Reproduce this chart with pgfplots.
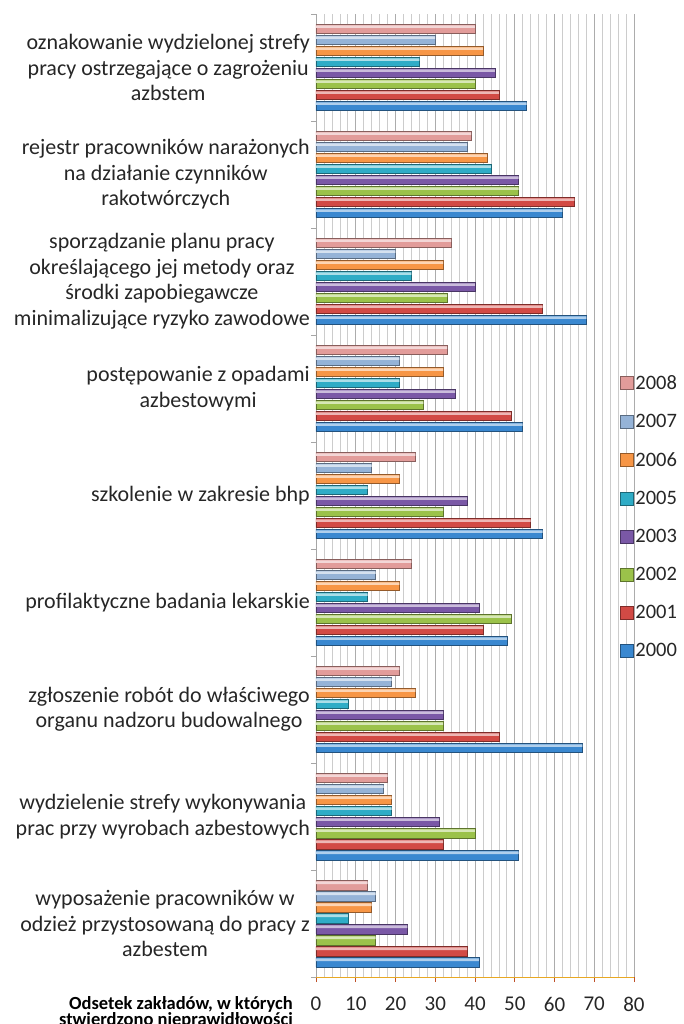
\documentclass[border=0pt]{standalone}
\usepackage{pgfplots}
\pgfplotsset{compat=1.18}
\usepackage{pgfplotstable}
\usepackage{fontspec}
\setmainfont{Carlito}

\definecolor{c2000}{RGB}{58,136,208}
\definecolor{c2001}{RGB}{210,74,69}
\definecolor{c2002}{RGB}{155,194,74}
\definecolor{c2003}{RGB}{122,88,166}
\definecolor{c2005}{RGB}{47,172,198}
\definecolor{c2006}{RGB}{247,150,70}
\definecolor{c2007}{RGB}{149,179,215}
\definecolor{c2008}{RGB}{226,156,154}
\definecolor{txt}{RGB}{38,38,38}
\definecolor{axorange}{RGB}{232,168,36}
\definecolor{tickred}{RGB}{190,80,40}

\pgfplotstableread{
cat y2000 y2001 y2002 y2003 y2005 y2006 y2007 y2008
0 41 38 15 23 8 14 15 13
1 51 32 40 31 19 19 17 18
2 67 46 32 32 8 25 19 21
3 48 42 49 41 13 21 15 24
4 57 54 32 38 13 21 14 25
5 52 49 27 35 21 32 21 33
6 68 57 33 40 24 32 20 34
7 62 65 51 51 44 43 38 39
8 53 46 40 45 26 42 30 40
}\data

\pgfplotsset{sqleg/.style={legend image code/.code={\draw[##1] (0pt,-6.5pt) rectangle (13pt,6.5pt);}}}

\newcommand{\series}[4]{%
 \addplot[xbar, bar width=9.5pt, bar shift=#2, fill=#4, draw=#4!60!black, line width=0.5pt, sqleg] table[x=y#1, y=cat]{\data};
 \addlegendentry{#1}
 \addplot[xbar, bar width=2.6pt, bar shift=#3, fill=#4!40!white, draw=none, forget plot] table[x=y#1, y=cat]{\data};
}

\begin{document}
\begin{tikzpicture}
\begin{axis}[
 name=ax,
 scale only axis, width=318pt, height=963pt,
 xmin=0, xmax=80, ymin=-0.5, ymax=8.5,
 clip=false,
 axis x line*=bottom, axis y line*=left,
 x axis line style={draw=axorange, line width=1pt, -},
 y axis line style={draw=gray!70, line width=0.8pt, -},
 xtick={0,10,...,80}, minor x tick num=4,
 xmajorgrids, xminorgrids,
 major grid style={draw=gray!65, line width=0.7pt},
 minor grid style={draw=gray!40, line width=0.6pt},
 tick align=outside, major tick length=5pt, minor tick length=0pt,
 every major x tick/.append style={draw=tickred, line width=0.8pt},
 ytick={0,...,8},
 every major y tick/.append style={draw=none},
 extra y ticks={-0.5,0.5,...,8.5}, extra y tick labels={},
 extra y tick style={every major y tick/.append style={draw=gray!70, line width=0.8pt}},
 yticklabels={
  {wyposażenie pracowników w\\odzież przystosowaną do pracy z\\azbestem},
  {wydzielenie strefy wykonywania\\prac przy wyrobach azbestowych},
  {zgłoszenie robót do właściwego\\organu nadzoru budowalnego},
  {profilaktyczne badania lekarskie},
  {szkolenie w zakresie bhp},
  {postępowanie z opadami\\azbestowymi},
  {sporządzanie planu pracy\\określającego jej metody oraz\\środki zapobiegawcze\\minimalizujące ryzyko zawodowe},
  {rejestr pracowników narażonych\\na działanie czynników\\rakotwórczych},
  {oznakowanie wydzielonej strefy\\pracy ostrzegające o zagrożeniu\\azbstem}},
 yticklabel style={font=\fontsize{22}{25.5}\selectfont, text=txt, align=center, inner sep=0pt, xshift=-1pt},
 xticklabel style={font=\fontsize{21}{24}\selectfont, text=txt, inner sep=0pt, yshift=-15pt},
 /pgf/number format/assume math mode=true,
 legend style={at={(rel axis cs:0.955,0.478)}, anchor=west, draw=none, fill=none,
   font=\fontsize{20.5}{24}\selectfont, text=txt, row sep=19.3pt, inner sep=0pt},
 legend cell align=left,
]
\series{2008}{38.5pt}{40.8pt}{c2008}
\series{2007}{27.5pt}{29.8pt}{c2007}
\series{2006}{16.5pt}{18.8pt}{c2006}
\series{2005}{5.5pt}{7.8pt}{c2005}
\series{2003}{-5.5pt}{-3.2pt}{c2003}
\series{2002}{-16.5pt}{-14.2pt}{c2002}
\series{2001}{-27.5pt}{-25.2pt}{c2001}
\series{2000}{-38.5pt}{-36.2pt}{c2000}
\end{axis}
\node[anchor=north east, align=right, font=\bfseries\fontsize{18.5}{18.5}\selectfont, text=black, inner sep=0pt]
  at ([shift={(-23pt,-19pt)}]ax.south west) {Odsetek zakładów, w których\\[-2pt]stwierdzono nieprawidłowości};
\pgfresetboundingbox
\path[use as bounding box] ([shift={(-316pt,-47pt)}]ax.south west) rectangle ([shift={(368pt,977pt)}]ax.south west);
\end{tikzpicture}
\end{document}
